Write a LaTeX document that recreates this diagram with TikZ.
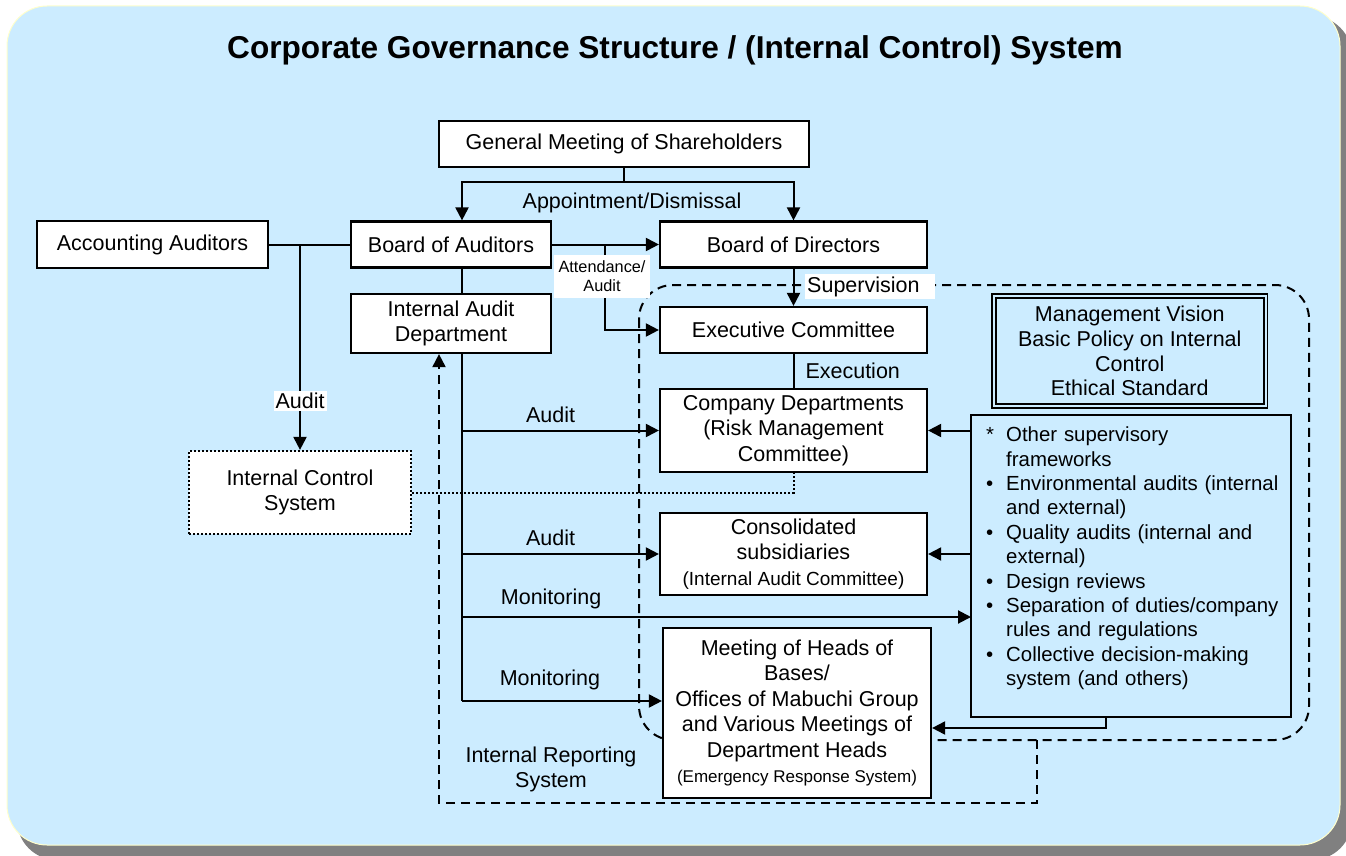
\documentclass[tikz,border=0pt]{standalone}
\usepackage{fontspec}
\setmainfont{Liberation Sans}
\usetikzlibrary{positioning,arrows.meta}
\definecolor{panelblue}{RGB}{204,236,255}
\definecolor{shadowgray}{RGB}{128,128,128}
\definecolor{rimyellow}{RGB}{255,255,204}
\newcommand{\mainfs}{\fontsize{21.5}{25.5}\selectfont}
\newcommand{\listfs}{\fontsize{20.4}{24.4}\selectfont}
\newcommand{\notefs}{\fontsize{16.3}{19}\selectfont}
\newcommand{\bulletrow}[1]{\par\hangindent=20pt\hangafter=1\noindent\makebox[20pt][l]{#1}}

\begin{document}
\begin{tikzpicture}[x=1pt,y=-1pt,
    unit/.style={rectangle, draw, line width=2.2pt, fill=white, inner sep=0pt, align=center, font=\mainfs},
    conn/.style={line width=2pt},
    arr/.style={conn, -{Triangle[length=13pt,width=13pt]}},
    dashline/.style={conn, dash pattern=on 9pt off 6pt},
    tag/.style={font=\mainfs, inner sep=2pt, align=center},
    whitetag/.style={tag, fill=white}
]
\useasboundingbox (0,0) rectangle (1346,856);

% panel
\fill[shadowgray, rounded corners=40pt] (17,16) rectangle (1352,860);
\filldraw[fill=panelblue, draw=rimyellow, line width=1pt, rounded corners=40pt] (7,6) rectangle (1340,845);
\node[font=\fontsize{31.6}{36}\selectfont\bfseries] (title) at (675,50) {Corporate Governance Structure / (Internal Control) System};

% group of executing bodies
\draw[dashline, rounded corners=34pt] (639,285) rectangle (1309,740);

\node[unit, minimum width=370pt, minimum height=46pt] (gm) at (624,144) {General Meeting of Shareholders};
\node[unit, minimum width=231pt, minimum height=47pt] (accaud) at (152.5,244.5) {Accounting Auditors};
\node[unit, minimum width=200pt, minimum height=46pt] (boa) at (451,244.5) {Board of Auditors};
\node[unit, minimum width=267pt, minimum height=46pt] (bod) at (793.5,244.5) {Board of Directors};
\node[unit, minimum width=200pt, minimum height=59pt] (iad) at (451,323.5) {Internal Audit\\Department};
\node[unit, minimum width=267pt, minimum height=46pt] (exec) at (793.5,330) {Executive Committee};
\node[unit, minimum width=267pt, minimum height=83pt] (cd) at (793.5,430.5) {Company Departments\\(Risk Management\\Committee)};
\node[unit, minimum width=267pt, minimum height=82pt] (cons) at (793.5,554) {Consolidated\\subsidiaries\\{\fontsize{19}{22}\selectfont(Internal Audit Committee)}};
\node[unit, minimum width=268pt, minimum height=170pt] (mhb) at (797,713) {Meeting of Heads of\\Bases/\\Offices of Mabuchi Group\\and Various Meetings of\\Department Heads\\{\fontsize{17}{20}\selectfont(Emergency Response System)}};
\node[unit, dash pattern=on 2pt off 2pt, minimum width=222pt, minimum height=83pt] (ics) at (300,492.5) {Internal Control\\System};
\node[unit, fill=none, double=panelblue, double distance=2pt, line width=1.6pt, minimum width=271.5pt, minimum height=110pt, font=\fontsize{21.5}{24.7}\selectfont] (vision) at (1129.75,351) {Management Vision\\Basic Policy on Internal\\Control\\Ethical Standard};
\node[unit, fill=none, minimum width=320pt, minimum height=302pt] (bullets) at (1131,566) {};
\node[anchor=north west, inner sep=0pt, text width=300pt, align=left, font=\listfs] (bullettext) at (986,417) {%
\bulletrow{*}Other supervisory\newline frameworks
\bulletrow{\textbullet}Environmental audits (internal\newline and external)
\bulletrow{\textbullet}Quality audits (internal and\newline external)
\bulletrow{\textbullet}Design reviews
\bulletrow{\textbullet}Separation of duties/company\newline rules and regulations
\bulletrow{\textbullet}Collective decision-making\newline system (and others)\par};

% appointment
\coordinate (split) at (624,182);
\draw[conn] (gm.south) -- (split);
\draw[arr] (split) -| ([xshift=11pt]boa.north);
\draw[arr] (split) -| (bod.north);
\node[tag] (appoint) at (632,203) {Appointment/Dismissal};

% auditors
\coordinate (aajoin) at (300,244.5);
\draw[conn] (accaud) -- (boa);
\draw[arr] (aajoin) -- node[whitetag, pos=0.76] (auditics) {Audit} (ics.north);
\draw[arr] (boa) -- (bod);
\coordinate (attend) at (605,244.5);
\draw[arr] (attend) |- (exec.west);
\node[whitetag, font=\notefs, minimum width=96pt, minimum height=43pt, inner sep=0pt] (attlabel) at (602,276.5) {Attendance/\\Audit};
\draw[conn] ([xshift=11pt]boa.south) -- ([xshift=11pt]iad.north);

% directors
\draw[arr] (bod) -- (exec);
\node[whitetag, anchor=west, text width=126pt, align=left, minimum height=25pt, inner ysep=0pt] (superv) at (805,286.5) {Supervision};
\draw[conn] (exec) -- node[tag, right=9pt] (execlabel) {Execution} (cd);

% internal control
\draw[conn, dash pattern=on 2pt off 2pt] (ics.east) -| (cd.south);

% internal audit
\coordinate (trunk) at (462,701);
\coordinate (mon) at (971,617);
\draw[conn] ([xshift=11pt]iad.south) -- (trunk);
\draw[arr] (trunk |- cd.west) -- node[tag, above=5pt, pos=0.45] (audcd) {Audit} (cd.west);
\draw[arr] (trunk |- cons.west) -- node[tag, above=5pt, pos=0.45] (audcons) {Audit} (cons.west);
\draw[arr] (trunk |- mon) -- node[tag, above=5pt, pos=0.175] (monbul) {Monitoring} (mon);
\draw[arr] (trunk) -- node[tag, above=8pt, pos=0.44] (monmhb) {Monitoring} ([yshift=12pt]mhb.west);

% other frameworks
\draw[arr] (bullets.west |- cd.east) -- (cd.east);
\draw[arr] (bullets.west |- cons.east) -- (cons.east);
\draw[arr] ([xshift=-25pt]bullets.south) |- ([yshift=-15pt]mhb.east);

% internal reporting
\coordinate (rep) at (1037,740);
\coordinate (repl) at (439,803);
\draw[dashline, arr] (rep) |- (repl) -- (repl |- iad.south);
\node[tag] (replabel) at (551,769.5) {Internal Reporting\\System};
\end{tikzpicture}
\end{document}
